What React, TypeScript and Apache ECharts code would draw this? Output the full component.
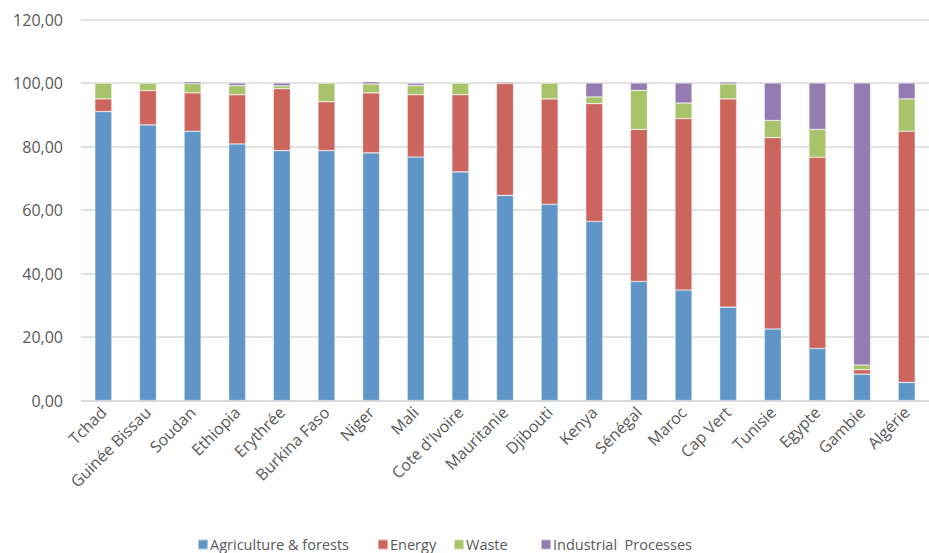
import React, { useEffect, useRef } from "react";
import * as echarts from "echarts";

const categories = [
  "Tchad", "Guinée Bissau", "Soudan", "Ethiopia", "Erythrée", "Burkina Faso", "Niger", "Mali",
  "Cote d'Ivoire", "Mauritanie", "Djibouti", "Kenya", "Sénégal", "Maroc", "Cap Vert", "Tunisie",
  "Egypte", "Gambie", "Algérie",
];
const agriculture = [91.0, 86.8, 84.8, 80.8, 78.7, 78.7, 78.0, 76.7, 72.0, 64.6, 61.8, 56.4, 37.5, 34.8, 29.4, 22.5, 16.4, 8.3, 5.7];
const energy = [4.0, 10.8, 12.1, 15.5, 19.5, 15.4, 18.9, 19.6, 24.3, 35.3, 33.2, 37.1, 47.9, 54.0, 65.6, 60.3, 60.2, 1.4, 79.1];
const waste = [5.0, 2.4, 2.9, 2.9, 0.9, 5.9, 2.8, 2.9, 3.7, 0.1, 5.0, 2.1, 12.3, 4.9, 4.7, 5.4, 8.8, 1.5, 10.2];
const industrial = [0, 0, 0.6, 0.8, 0.9, 0, 0.7, 0.7, 0, 0.4, 0, 4.4, 2.3, 6.3, 0.6, 11.8, 14.6, 88.8, 5.0];
const seriesNames = ["Agriculture & forests", "Energy", "Waste", "Industrial  Processes"];
const colors = ["#5f96c7", "#cc655d", "#a8c36a", "#947bb2"];

export default function App() {
  const ref = useRef<HTMLDivElement>(null);
  useEffect(() => {
    if (!ref.current) return;
    const chart = echarts.init(ref.current, undefined, { renderer: "svg" });
    const font = "'Open Sans', sans-serif";
    const data = [agriculture, energy, waste, industrial];
    const legendLefts = [192, 372, 448, 535];
    chart.setOption({
      animation: false,
      textStyle: { fontFamily: font },
      grid: { left: 81, top: 19.5, width: 860, height: 381 },
      legend: seriesNames.map((name, i) => ({
        top: 532,
        left: legendLefts[i],
        itemWidth: 10,
        itemHeight: 10,
        itemGap: 0,
        icon: "rect",
        textStyle: { fontFamily: font, fontSize: 14.5, color: "#595959", padding: [0, 0, 0, -3] },
        data: [name],
      })),
      xAxis: {
        type: "category",
        data: categories,
        axisTick: { show: false },
        axisLine: { lineStyle: { color: "#d9d9d9", width: 1.5 } },
        axisLabel: { rotate: 45, interval: 0, margin: 9, fontSize: 16, color: "#595959", fontFamily: font },
      },
      yAxis: {
        type: "value",
        min: 0,
        max: 120,
        interval: 20,
        axisLine: { show: false },
        axisTick: { show: false },
        splitLine: { lineStyle: { color: "#d9d9d9", width: 1.5 } },
        axisLabel: {
          margin: 18,
          fontSize: 16,
          color: "#595959",
          fontFamily: font,
          formatter: (v: number) => v.toFixed(2).replace(".", ","),
        },
      },
      series: seriesNames.map((name, i) => ({
        name,
        type: "bar",
        stack: "total",
        barWidth: 17,
        data: data[i],
        itemStyle: { color: colors[i], borderColor: "rgba(255,255,255,0.5)", borderWidth: 0.6 },
      })),
    });
    return () => chart.dispose();
  }, []);
  return <div ref={ref} style={{ position: "absolute", left: 0, top: 0, width: 929, height: 553 }} />;
}
